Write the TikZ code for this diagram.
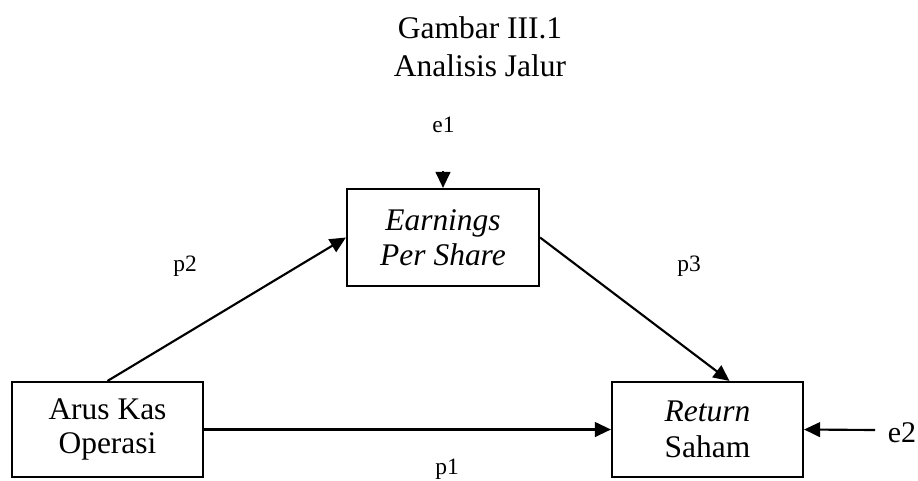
\documentclass[tikz,border=0pt]{standalone}
\usepackage{fontspec}
\setmainfont{Liberation Serif}
\usetikzlibrary{arrows.meta,calc}
\tikzset{
  boxnode/.style={draw,line width=1.6pt,align=center,inner sep=0pt,
    font=\fontsize{23.6}{26.5}\selectfont},
  lbl/.style={anchor=base,inner sep=0pt,font=\fontsize{17.6}{20}\selectfont},
  conn/.style={line width=1.6pt,-{Triangle[length=12pt,width=11pt]}},
}
\begin{document}
\begin{tikzpicture}[x=0.75pt,y=-0.75pt]
\useasboundingbox (0,0) rectangle (918,480);
\node[align=center,font=\fontsize{23.6}{28.5}\selectfont] (title) at (480,47) {Gambar III.1\\Analisis Jalur};
\node[boxnode,minimum width=191*0.75pt,minimum height=95*0.75pt] (aru) at (107.5,429.5) {\raisebox{-3pt}{\begin{tabular}{@{}c@{}}Arus Kas\\[-1pt]Operasi\end{tabular}}};
\node[boxnode,minimum width=192*0.75pt,minimum height=97*0.75pt] (eps) at (443,237.5) {\itshape Earnings\\\itshape Per Share};
\node[boxnode,minimum width=191*0.75pt,minimum height=95*0.75pt] (ret) at (707.5,429.5) {\itshape Return\\Saham};
\node[lbl] (e1) at (443.5,132) {e1};
\node[lbl] (p2) at (185,271) {p2};
\node[lbl] (p3) at (689,271) {p3};
\node[lbl] (p1) at (447,474) {p1};
\node[lbl,font=\fontsize{22.5}{25}\selectfont] (e2) at (902,442) {e2};
\coordinate (e1s) at (443,171);
\coordinate (e2s) at (875,430);
\draw[conn] (e1s) -- (eps.north);
\draw[conn] (aru.north) -- (eps.west);
\draw[conn] (eps.east) -- ([xshift=16.5pt]ret.north);
\draw[conn] (aru.east) -- (ret.west);
\draw[conn] (e2s) -- (ret.east);
\end{tikzpicture}
\end{document}
